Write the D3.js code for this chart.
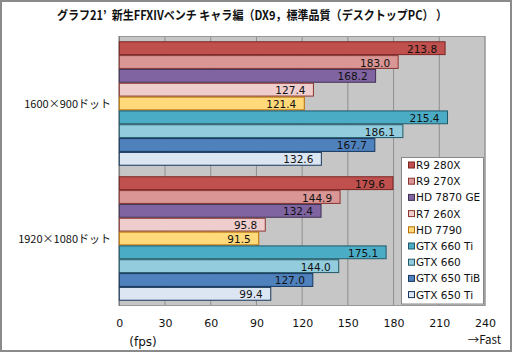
<!DOCTYPE html>
<html><head><meta charset="utf-8">
<script src="https://cdn.jsdelivr.net/npm/d3@7"></script>
<style>
html,body{margin:0;padding:0;background:#fff;}
svg{display:block;}
</style>
</head><body>
<svg id="c" width="512" height="352"></svg>
<script>
const title = "グラフ21’  新生FFXIVベンチ キャラ編（DX9，標準品質（デスクトップPC） ）";
const groups = ["1600×900ドット", "1920×1080ドット"];
const series = ["R9 280X", "R9 270X", "HD 7870 GE", "R7 260X", "HD 7790", "GTX 660 Ti", "GTX 660", "GTX 650 TiB", "GTX 650 Ti"];
const values1600 = [213.8, 183.0, 168.2, 127.4, 121.4, 215.4, 186.1, 167.7, 132.6];
const values1920 = [179.6, 144.9, 132.4, 95.8, 91.5, 175.1, 144.0, 127.0, 99.4];
const ticks = [0, 30, 60, 90, 120, 150, 180, 210, 240];
const fills = ["#c0504d", "#d99694", "#8064a2", "#eecdcc", "#ffd97a", "#4bacc6", "#93cddd", "#4f81bd", "#dce6f2"];
const strokes = ["#7a2523", "#8a3532", "#3f3151", "#8a3532", "#b86e00", "#215968", "#215968", "#17375e", "#17375e"];

const svg = d3.select("#c");
const W = 512, H = 352;
const L = 119.3, R = 485, T = 36, B = 306;
const font = "'DejaVu Sans', sans-serif";
const jfont = "'Noto Sans CJK JP', sans-serif";

// outer frame
svg.append("rect").attr("x", 1).attr("y", 1).attr("width", W - 2).attr("height", H - 2)
  .attr("fill", "#fff").attr("stroke", "#8a8a8a").attr("stroke-width", 2);

svg.append("text").attr("x", 57).attr("y", 19.5)
  .style("white-space", "pre")
  .attr("font-family", jfont).attr("font-weight", "bold").attr("font-size", 12.5)
  .attr("textLength", 390).attr("lengthAdjust", "spacingAndGlyphs")
  .attr("fill", "#111").text(title);

const x = d3.scaleLinear().domain([0, 240]).range([L, R]);
const g = d3.scaleBand().domain(groups).range([T, B]).paddingInner(0.078).paddingOuter(0.039);
const s = d3.scaleBand().domain(series).range([0, g.bandwidth()]);

// plot background
svg.append("rect").attr("x", L).attr("y", T).attr("width", R - L).attr("height", B - T).attr("fill", "#c6c6c6");
// gridlines
svg.append("g").selectAll("line").data(ticks.slice(1)).join("line")
  .attr("x1", d => x(d)).attr("x2", d => x(d)).attr("y1", T).attr("y2", B)
  .attr("stroke", "#8f8f8f").attr("stroke-width", 1);
// plot border
svg.append("rect").attr("x", L).attr("y", T + 0.5).attr("width", R - L).attr("height", B - T - 1)
  .attr("fill", "none").attr("stroke", "#999").attr("stroke-width", 1);
svg.append("line").attr("x1", L).attr("x2", L).attr("y1", T).attr("y2", B)
  .attr("stroke", "#808080").attr("stroke-width", 1.5);

const data = [];
[values1600, values1920].forEach((vals, gi) => {
  vals.forEach((v, si) => data.push({ g: groups[gi], s: series[si], si, v }));
});

svg.append("g").selectAll("rect").data(data).join("rect")
  .attr("x", x(0)).attr("y", d => g(d.g) + s(d.s) + 0.5)
  .attr("width", d => x(d.v) - x(0)).attr("height", s.bandwidth() - 1)
  .attr("fill", d => fills[d.si]).attr("stroke", d => strokes[d.si]).attr("stroke-width", 1);

svg.append("g").selectAll("text").data(data).join("text")
  .attr("x", d => x(d.v) - 8).attr("y", d => g(d.g) + s(d.s) + s.bandwidth() / 2 + 4.5)
  .attr("text-anchor", "end").attr("font-family", font).attr("font-size", 10.5)
  .attr("fill", "#111").text(d => d.v.toFixed(1));

// category labels
svg.append("g").selectAll("text").data(groups).join("text")
  .attr("x", 111).attr("y", d => g(d) + g.bandwidth() / 2 + 4)
  .attr("text-anchor", "end").attr("font-family", jfont).attr("font-size", 11)
  .attr("fill", "#111").text(d => d);

// x axis labels
const ax = svg.append("g").attr("transform", `translate(0,${B})`)
  .call(d3.axisBottom(x).tickValues(ticks).tickSize(0).tickPadding(13).tickFormat(d3.format("d")));
ax.select(".domain").remove();
ax.selectAll("text").attr("font-family", font).attr("font-size", 11).attr("fill", "#111");

svg.append("text").attr("x", 143).attr("y", 345.5).attr("text-anchor", "middle")
  .attr("font-family", font).attr("font-size", 12).attr("fill", "#111").text("(fps)");
svg.append("text").attr("x", 501).attr("y", 344).attr("text-anchor", "end")
  .attr("font-family", jfont).attr("font-size", 11.5).attr("fill", "#111").text("→Fast");

// legend
const lg = svg.append("g");
lg.append("rect").attr("x", 401.5).attr("y", 157.5).attr("width", 82).attr("height", 146.5)
  .attr("fill", "#fff").attr("stroke", "#888").attr("stroke-width", 1);
const ly = d3.scalePoint().domain(series).range([165, 165 + 16.2 * 8]);
lg.selectAll("rect.sw").data(series).join("rect").attr("class", "sw")
  .attr("x", 408.5).attr("y", d => ly(d) - 3).attr("width", 6).attr("height", 6)
  .attr("fill", (d, i) => fills[i]).attr("stroke", (d, i) => strokes[i]).attr("stroke-width", 1);
lg.selectAll("text").data(series).join("text")
  .attr("x", 416).attr("y", d => ly(d) + 4)
  .attr("font-family", font).attr("font-size", 10.5).attr("fill", "#111").text(d => d);
</script>
</body></html>
